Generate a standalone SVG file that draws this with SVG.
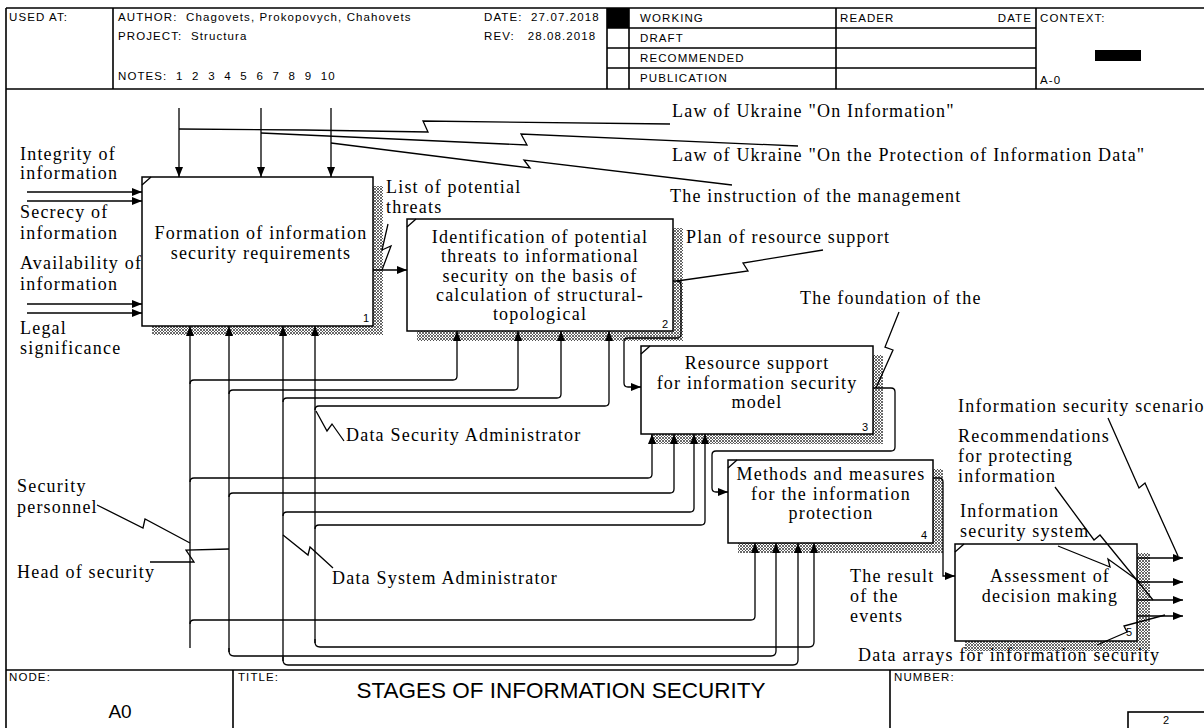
<svg xmlns="http://www.w3.org/2000/svg" width="1204" height="728" viewBox="0 0 1204 728">
  <style>
    .t { font-family: "Liberation Serif", "Times New Roman", serif; font-size: 18px; letter-spacing: 1.2px; fill: #000; }
    .c { text-anchor: middle; }
    .h { font-family: "Liberation Sans", Arial, sans-serif; font-size: 11.5px; letter-spacing: 1.1px; fill: #000; white-space: pre; }
    .num { font-family: "Liberation Sans", Arial, sans-serif; font-size: 11px; fill: #000; }
    .frame { stroke: #000; stroke-width: 1.6; fill: none; }
    .ln { stroke: #000; stroke-width: 1.3; fill: none; }
    .ar { marker-end: url(#arrow); }
    .box { fill: #fff; stroke: #000; stroke-width: 1.5; }
    .sh { fill: url(#hatch); }
  </style>
  <defs>
    <pattern id="hatch" width="3" height="3" patternUnits="userSpaceOnUse">
      <rect width="3" height="3" fill="#fff"/>
      <path d="M0,0 L3,3 M3,0 L0,3" stroke="#444" stroke-width="0.8"/>
    </pattern>
    <marker id="arrow" viewBox="0 0 10 8" refX="10" refY="4" markerWidth="10" markerHeight="8" markerUnits="userSpaceOnUse" orient="auto">
      <path d="M0,0 L10,4 L0,8 z" fill="#000"/>
    </marker>
  </defs>

  <rect width="1204" height="728" fill="#fff"/>

  <!-- header block -->
  <g id="header">
    <path class="frame" d="M6,8 H1210 M6,89 H1210 M6,8 V728 M113,8 V89 M607,8 V89 M629,8 V89 M836,8 V89 M1036,8 V89 M607,28 H1036 M607,48 H1036 M607,68 H1036"/>
    <rect x="607" y="8" width="22" height="20" fill="#000"/>
    <text class="h" x="9" y="21">USED AT:</text>
    <text class="h" x="118" y="21" xml:space="preserve">AUTHOR:  Chagovets, Prokopovych, Chahovets</text>
    <text class="h" x="118" y="40" xml:space="preserve">PROJECT:  Structura</text>
    <text class="h" x="118" y="80" xml:space="preserve">NOTES:  1  2  3  4  5  6  7  8  9  10</text>
    <text class="h" x="484" y="21" xml:space="preserve">DATE:  27.07.2018</text>
    <text class="h" x="484" y="40" xml:space="preserve">REV:   28.08.2018</text>
    <text class="h" x="640" y="22">WORKING</text>
    <text class="h" x="640" y="42">DRAFT</text>
    <text class="h" x="640" y="62">RECOMMENDED</text>
    <text class="h" x="640" y="82">PUBLICATION</text>
    <text class="h" x="840" y="22">READER</text>
    <text class="h" x="1032" y="22" text-anchor="end">DATE</text>
    <text class="h" x="1040" y="22">CONTEXT:</text>
    <rect x="1095" y="50" width="46" height="11" fill="#000"/>
    <text class="h" x="1040" y="84" letter-spacing="-1">A-0</text>
  </g>

  <!-- footer block -->
  <g id="footer">
    <path class="frame" d="M6,670 H1210 M233,670 V728 M890,670 V728"/>
    <rect x="1128" y="712" width="82" height="20" class="frame"/>
    <text class="h" x="9" y="681" font-size="10" letter-spacing="0">NODE:</text>
    <text class="h" x="238" y="681" font-size="10" letter-spacing="0">TITLE:</text>
    <text class="h" x="894" y="681" font-size="10" letter-spacing="0">NUMBER:</text>
    <text x="561" y="698" text-anchor="middle" font-family="Liberation Sans, Arial, sans-serif" font-size="22.5">STAGES OF INFORMATION SECURITY</text>
    <text x="120" y="718" text-anchor="middle" font-family="Liberation Sans, Arial, sans-serif" font-size="19">A0</text>
    <text class="num" x="1166" y="724" text-anchor="middle" font-size="10">2</text>
  </g>

  <!-- activity boxes -->
  <g id="box1">
    <rect class="sh" x="152" y="186" width="231" height="149"/>
    <rect class="box" x="142" y="177" width="231" height="149"/>
    <path class="ln" d="M142,185 L151,177"/>
    <text class="t c" x="261" y="239">Formation of information</text>
    <text class="t c" x="261" y="259">security requirements</text>
    <text class="num" x="363" y="322">1</text>
  </g>
  <g id="box2">
    <rect class="sh" x="417" y="228" width="266" height="113"/>
    <rect class="box" x="407" y="219" width="266" height="112"/>
    <path class="ln" d="M407,227 L416,219"/>
    <text class="t c" x="540" y="243">Identification of potential</text>
    <text class="t c" x="540" y="262">threats to informational</text>
    <text class="t c" x="540" y="282">security on the basis of</text>
    <text class="t c" x="540" y="301">calculation of structural-</text>
    <text class="t c" x="540" y="320">topological</text>
    <text class="num" x="662" y="328">2</text>
  </g>
  <g id="box3">
    <rect class="sh" x="651" y="355" width="232" height="89"/>
    <rect class="box" x="641" y="346" width="232" height="88"/>
    <path class="ln" d="M641,354 L650,346"/>
    <text class="t c" x="757" y="369">Resource support</text>
    <text class="t c" x="757" y="389">for information security</text>
    <text class="t c" x="757" y="408">model</text>
    <text class="num" x="862" y="431">3</text>
  </g>
  <g id="box4">
    <rect class="sh" x="738" y="469" width="205" height="84"/>
    <rect class="box" x="728" y="460" width="205" height="83"/>
    <path class="ln" d="M728,468 L737,460"/>
    <text class="t c" x="831" y="480">Methods and measures</text>
    <text class="t c" x="831" y="500">for the information</text>
    <text class="t c" x="831" y="519">protection</text>
    <text class="num" x="921" y="539">4</text>
  </g>
  <g id="box5">
    <rect class="sh" x="965" y="553" width="185" height="98"/>
    <rect class="box" x="955" y="544" width="182" height="97"/>
    <path class="ln" d="M955,552 L964,544"/>
    <text class="t c" x="1050" y="582">Assessment of</text>
    <text class="t c" x="1050" y="602">decision making</text>
    <text class="num" x="1126" y="636">5</text>
  </g>

  <!-- arrows between and around the boxes -->
  <g id="connectors">
    <!-- controls -->
    <path class="ln ar" d="M179,108 V177"/>
    <path class="ln ar" d="M261,108 V177"/>
    <path class="ln ar" d="M331,108 V177"/>
    <!-- inputs -->
    <path class="ln ar" d="M27,192 H142"/>
    <path class="ln ar" d="M27,201 H142"/>
    <path class="ln ar" d="M27,304 H142"/>
    <path class="ln ar" d="M27,313 H142"/>
    <!-- box to box -->
    <path class="ln ar" d="M373,270 H407"/>
    <path class="ln ar" d="M673,281 H677 Q681,281 681,285 V334 Q681,338 677,338 H628 Q624,338 624,342 V383 Q624,387 628,387 H641"/>
    <path class="ln ar" d="M873,388 H891 Q895,388 895,392 V447 Q895,451 891,451 H716 Q712,451 712,455 V488 Q712,492 716,492 H728"/>
    <path class="ln ar" d="M933,478 H939 Q943,478 943,482 V576 H955"/>
    <!-- outputs -->
    <path class="ln ar" d="M1137,558 H1183"/>
    <path class="ln ar" d="M1137,582 H1183"/>
    <path class="ln ar" d="M1137,600 H1183"/>
    <path class="ln ar" d="M1137,616 H1183"/>
    <!-- mechanisms into box 1 -->
    <path class="ln ar" d="M190,648 V326"/>
    <path class="ln ar" d="M229,652 V326"/>
    <path class="ln ar" d="M283,661 V326"/>
    <path class="ln ar" d="M315,643 V326"/>
    <!-- mechanisms into box 2 -->
    <path class="ln ar" d="M190,384 Q190,380 194,380 H453 Q457,380 457,376 V331"/>
    <path class="ln ar" d="M229,394 Q229,390 233,390 H514 Q518,390 518,386 V331"/>
    <path class="ln ar" d="M283,402 Q283,398 287,398 H557 Q561,398 561,394 V331"/>
    <path class="ln ar" d="M315,410 Q315,406 319,406 H605 Q609,406 609,402 V331"/>
    <!-- mechanisms into box 3 -->
    <path class="ln ar" d="M190,482 Q190,478 194,478 H648 Q652,478 652,474 V434"/>
    <path class="ln ar" d="M229,497 Q229,493 233,493 H670 Q674,493 674,489 V434"/>
    <path class="ln ar" d="M283,516 Q283,512 287,512 H690 Q694,512 694,508 V434"/>
    <path class="ln ar" d="M315,529 Q315,525 319,525 H701 Q705,525 705,521 V434"/>
    <!-- mechanisms into box 4 -->
    <path class="ln ar" d="M190,624 Q190,620 194,620 H751 Q755,620 755,616 V543"/>
    <path class="ln ar" d="M229,648 V651 Q229,656 234,656 H771 Q776,656 776,651 V543"/>
    <path class="ln ar" d="M283,657 V660 Q283,665 288,665 H793 Q798,665 798,660 V543"/>
    <path class="ln ar" d="M315,639 V642 Q315,647 320,647 H809 Q814,647 814,642 V543"/>
    <!-- label leaders (squiggles) -->
    <path class="ln" d="M179,129 L305,130 L428,132 L423,121 L670,124"/>
    <path class="ln" d="M261,133 L527,145 L521,134 L798,146"/>
    <path class="ln" d="M331,143 L530,168 L524,160 L732,185"/>
    <path class="ln" d="M388,224 L382,250 L391,246 L382,270"/>
    <path class="ln" d="M677,281 L748,271 L743,263 L823,250"/>
    <path class="ln" d="M899,312 L885,347 L893,350 L876,388"/>
    <path class="ln" d="M316,411 L327,431 L332,424 L344,441"/>
    <path class="ln" d="M97,505 L143,528 L145,519 L190,543"/>
    <path class="ln" d="M150,562 L194,562 L186,550 L229,549"/>
    <path class="ln" d="M283,535 L308,555 L310,547 L333,568"/>
    <path class="ln" d="M1108,418 L1139,488 L1145,483 L1178,556"/>
    <path class="ln" d="M1055,487 L1094,540 L1100,535 L1153,600"/>
    <path class="ln" d="M1058,546 L1110,567 L1108,559 L1140,582"/>
    <path class="ln" d="M1097,645 L1127,632 L1124,626 L1165,615"/>
  </g>

  <!-- arrow labels -->
  <g id="labels">
    <text class="t" x="672" y="117">Law of Ukraine "On Information"</text>
    <text class="t" x="672" y="161">Law of Ukraine "On the Protection of Information Data"</text>
    <text class="t" x="670" y="202">The instruction of the management</text>
    <text class="t" x="386" y="193">List of potential</text>
    <text class="t" x="386" y="213">threats</text>
    <text class="t" x="686" y="243">Plan of resource support</text>
    <text class="t" x="800" y="304">The foundation of the</text>
    <text class="t" x="20" y="160">Integrity of</text>
    <text class="t" x="20" y="179">information</text>
    <text class="t" x="20" y="218">Secrecy of</text>
    <text class="t" x="20" y="239">information</text>
    <text class="t" x="20" y="269">Availability of</text>
    <text class="t" x="20" y="290">information</text>
    <text class="t" x="20" y="334">Legal</text>
    <text class="t" x="20" y="354">significance</text>
    <text class="t" x="346" y="441">Data Security Administrator</text>
    <text class="t" x="17" y="492">Security</text>
    <text class="t" x="17" y="513">personnel</text>
    <text class="t" x="17" y="578">Head of security</text>
    <text class="t" x="332" y="584">Data System Administrator</text>
    <text class="t" x="850" y="582">The result</text>
    <text class="t" x="850" y="602">of the</text>
    <text class="t" x="850" y="622">events</text>
    <text class="t" x="958" y="412">Information security scenario</text>
    <text class="t" x="958" y="442">Recommendations</text>
    <text class="t" x="958" y="462">for protecting</text>
    <text class="t" x="958" y="482">information</text>
    <text class="t" x="960" y="517">Information</text>
    <text class="t" x="960" y="537">security system</text>
    <text class="t" x="858" y="661">Data arrays for information security</text>
  </g>
</svg>
